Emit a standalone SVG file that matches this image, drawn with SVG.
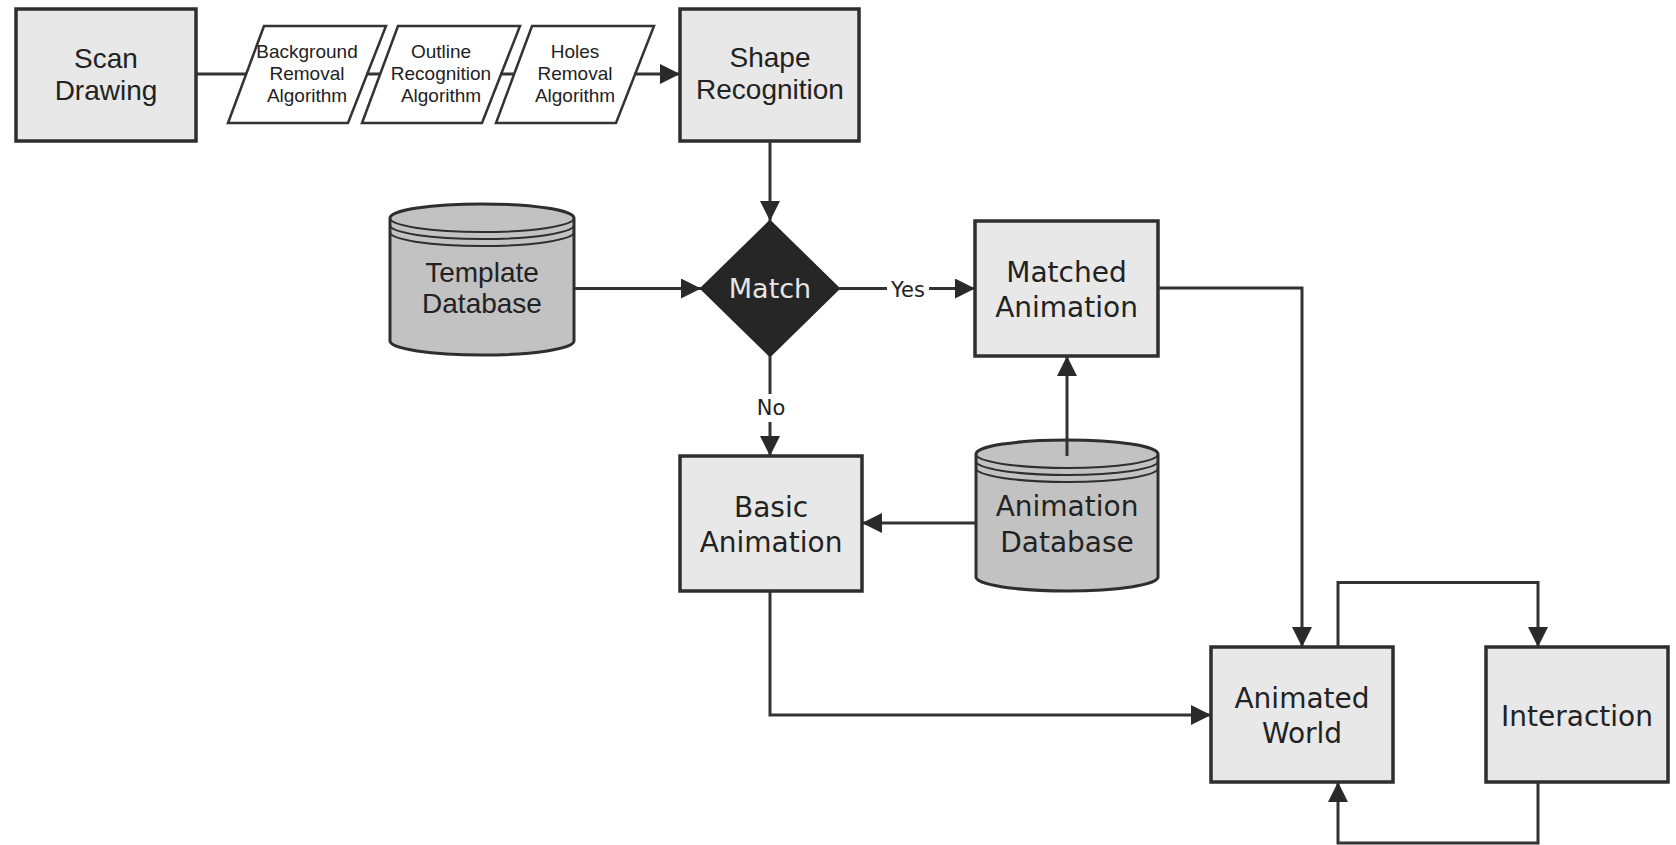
<svg xmlns="http://www.w3.org/2000/svg" width="1676" height="845" viewBox="0 0 1676 845">
<style>
.box{fill:#e8e8e8;stroke:#2e2e2e;stroke-width:3.5}
.para{fill:#ffffff;stroke:#333333;stroke-width:2.5}
.db{fill:#c2c2c2;stroke:#2e2e2e;stroke-width:3}
.dbl{fill:none;stroke:#2e2e2e;stroke-width:2}
.dia{fill:#262626;stroke:#262626;stroke-width:2}
.ln{fill:none;stroke:#333333;stroke-width:3;stroke-linejoin:miter}
.arr{marker-end:url(#ah)}
.ts{font-family:"Liberation Sans",Arial,sans-serif;font-size:28px;fill:#222222;text-anchor:middle}
.tp{font-family:"Liberation Sans",Arial,sans-serif;font-size:19px;fill:#222222;text-anchor:middle}
.td{font-family:"DejaVu Sans",Verdana,sans-serif;font-size:28px;fill:#222222;text-anchor:middle}
.tw{font-family:"DejaVu Sans",Verdana,sans-serif;font-size:27px;fill:#e6e6e6;text-anchor:middle}
.tl{font-family:"DejaVu Sans",Verdana,sans-serif;font-size:21px;fill:#222222;text-anchor:middle}
.lb{fill:#ffffff}
</style>
<defs>
<marker id="ah" markerUnits="userSpaceOnUse" markerWidth="21" markerHeight="21" refX="20" refY="10" orient="auto" viewBox="0 0 21 21">
<path d="M0,0 L20,10 L0,20 Z" fill="#2a2a2a"/>
</marker>
</defs>

<g id="scan-drawing">
<rect class="box" x="16" y="9" width="180" height="132"/>
<text class="ts" x="106" y="68">Scan</text>
<text class="ts" x="106" y="100">Drawing</text>
</g>

<g id="background-removal">
<polygon class="para" points="264,26 386,26 348,123 228,123"/>
<text class="tp" x="307" y="58">Background</text>
<text class="tp" x="307" y="80">Removal</text>
<text class="tp" x="307" y="102">Algorithm</text>
</g>

<g id="outline-recognition">
<polygon class="para" points="398,26 520,26 482,123 362,123"/>
<text class="tp" x="441" y="58">Outline</text>
<text class="tp" x="441" y="80">Recognition</text>
<text class="tp" x="441" y="102">Algorithm</text>
</g>

<g id="holes-removal">
<polygon class="para" points="532,26 654,26 616,123 496,123"/>
<text class="tp" x="575" y="58">Holes</text>
<text class="tp" x="575" y="80">Removal</text>
<text class="tp" x="575" y="102">Algorithm</text>
</g>

<g id="shape-recognition">
<rect class="box" x="680" y="9" width="179" height="132"/>
<text class="ts" x="770" y="67">Shape</text>
<text class="ts" x="770" y="99">Recognition</text>
</g>

<g id="template-database">
<path class="db" d="M390,218 L390,341 A92,14 0 0 0 574,341 L574,218 A92,14 0 0 0 390,218 Z"/>
<path class="dbl" d="M390,218 A92,14 0 0 0 574,218 M390,225 A92,14 0 0 0 574,225 M390,232 A92,14 0 0 0 574,232"/>
<text class="ts" x="482" y="282">Template</text>
<text class="ts" x="482" y="313">Database</text>
</g>

<g id="match">
<polygon class="dia" points="770,221 839,288.5 770,356 701,288.5"/>
<text class="tw" x="770" y="298">Match</text>
</g>

<g id="matched-animation">
<rect class="box" x="975" y="221" width="183" height="135"/>
<text class="td" x="1066.5" y="282">Matched</text>
<text class="td" x="1066.5" y="317">Animation</text>
</g>

<g id="basic-animation">
<rect class="box" x="680" y="456" width="182" height="135"/>
<text class="td" x="771" y="517">Basic</text>
<text class="td" x="771" y="552">Animation</text>
</g>

<g id="animation-database">
<path class="db" d="M976,454 L976,577 A91,14 0 0 0 1158,577 L1158,454 A91,14 0 0 0 976,454 Z"/>
<path class="dbl" d="M976,454 A91,14 0 0 0 1158,454 M976,461 A91,14 0 0 0 1158,461 M976,468 A91,14 0 0 0 1158,468"/>
<text class="td" x="1067" y="516">Animation</text>
<text class="td" x="1067" y="552">Database</text>
</g>

<g id="animated-world">
<rect class="box" x="1211" y="647" width="182" height="135"/>
<text class="td" x="1302" y="708">Animated</text>
<text class="td" x="1302" y="743">World</text>
</g>

<g id="interaction">
<rect class="box" x="1486" y="647" width="182" height="135"/>
<text class="td" x="1577" y="726">Interaction</text>
</g>

<g id="connectors">
<path class="ln" d="M196,74 H246 M366,74 H380 M500,74 H514"/>
<path class="ln arr" d="M634,74 H680"/>
<path class="ln arr" d="M770,141 V221"/>
<path class="ln arr" d="M574,288.5 H701"/>
<path class="ln arr" d="M839,288.5 H975"/>
<rect class="lb" x="887" y="277" width="42" height="24"/>
<text class="tl" x="908" y="297">Yes</text>
<path class="ln arr" d="M770,356 V456"/>
<rect class="lb" x="755" y="394" width="32" height="28"/>
<text class="tl" x="771" y="415">No</text>
<path class="ln arr" d="M1067,456 V356"/>
<path class="ln arr" d="M976,523 H862"/>
<path class="ln arr" d="M1158,288 H1302 V647"/>
<path class="ln arr" d="M770,591 V715 H1211"/>
<path class="ln arr" d="M1338,647 V582.5 H1538 V647"/>
<path class="ln arr" d="M1538,782 V843 H1338 V782"/>
</g>
</svg>
